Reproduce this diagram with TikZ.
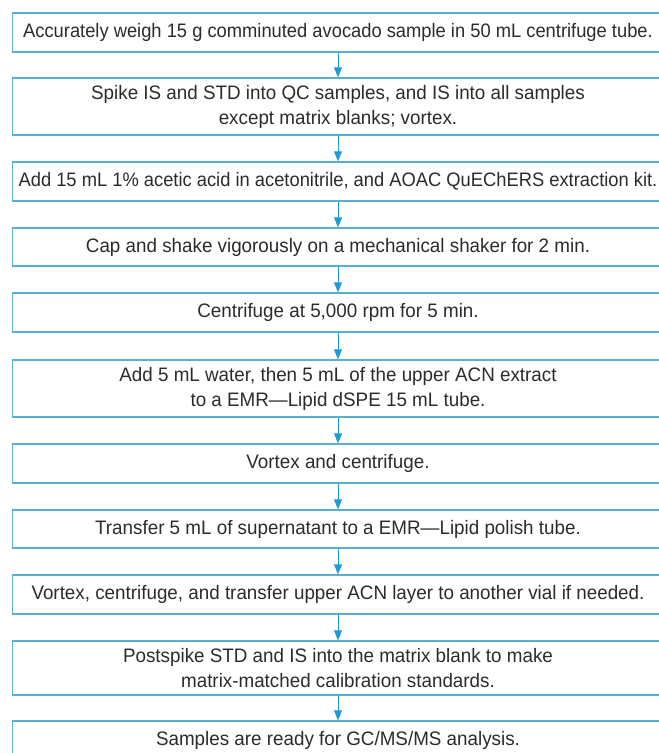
\documentclass[tikz,border=0pt]{standalone}
\usepackage{fontspec}
\setmainfont{Liberation Sans}[FakeStretch=0.965]
\newfontfamily\narrowfont{Liberation Sans}[FakeStretch=0.94]
\usetikzlibrary{arrows.meta,positioning}
\definecolor{boxline}{HTML}{5AAFCB}
\definecolor{arrowblue}{HTML}{1E9BD7}
\definecolor{steptext}{HTML}{2B2B2B}
\tikzset{stepbox/.style={draw=boxline, line width=1.4pt, minimum width=651pt,
    inner sep=0pt, align=center, text=steptext,
    font=\fontsize{19.5}{25}\selectfont},
  flow/.style={-{Triangle[width=8pt,length=10pt]}, arrowblue, line width=1pt}
}

\begin{document}
\begin{tikzpicture}[x=1pt, y=-1pt]
   \useasboundingbox (0,0) rectangle (659,753);
       \node[stepbox, minimum height=39pt] (weigh) at (338, 32.5) {\narrowfont Accurately weigh 15 g comminuted avocado sample in 50 mL centrifuge tube.};
       \node[stepbox, minimum height=57pt] (spike) at (338, 106.5) {Spike IS and STD into QC samples, and IS into all samples\\except matrix blanks; vortex.};
       \node[stepbox, minimum height=39pt] (extract) at (338, 181.5) {\narrowfont Add 15 mL 1\% acetic acid in acetonitrile, and AOAC QuEChERS extraction kit.};
       \node[stepbox, minimum height=38pt] (shake) at (338, 247) {Cap and shake vigorously on a mechanical shaker for 2 min.};
       \node[stepbox, minimum height=39pt] (spin1) at (338, 312.5) {Centrifuge at 5,000 rpm for 5 min.};
       \node[stepbox, minimum height=57pt] (dspe) at (338, 388.5) {Add 5 mL water, then 5 mL of the upper ACN extract\\to a EMR---Lipid dSPE 15 mL tube.};
       \node[stepbox, minimum height=39pt] (spin2) at (338, 463.5) {Vortex and centrifuge.};
       \node[stepbox, minimum height=38pt] (polish) at (338, 529) {Transfer 5 mL of supernatant to a EMR---Lipid polish tube.};
       \node[stepbox, minimum height=39pt] (layer) at (338, 594.5) {Vortex, centrifuge, and transfer upper ACN layer to another vial if needed.};
       \node[stepbox, minimum height=54pt] (post) at (338, 668) {Postspike STD and IS into the matrix blank to make\\matrix-matched calibration standards.};
       \node[stepbox, minimum height=39pt] (ready) at (338, 740.5) {Samples are ready for GC/MS/MS analysis.};

       \path[flow] (weigh) edge (spike)
           (spike) edge (extract)
           (extract) edge (shake)
           (shake) edge (spin1)
           (spin1) edge (dspe)
           (dspe) edge (spin2)
           (spin2) edge (polish)
           (polish) edge (layer)
           (layer) edge (post)
           (post) edge (ready);
\end{tikzpicture}
\end{document}
